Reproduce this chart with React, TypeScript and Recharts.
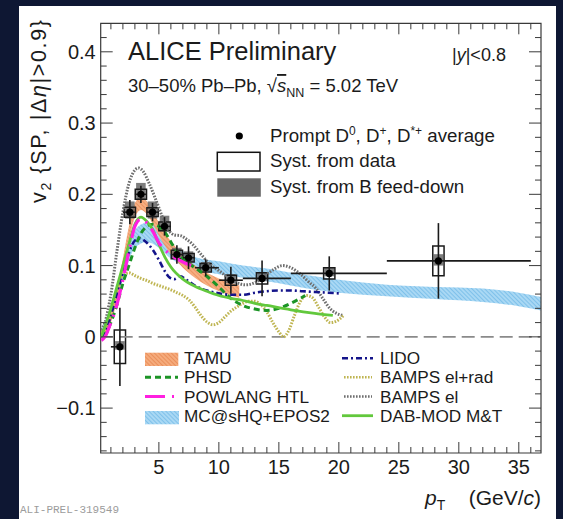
import React from "react";
import {
  ComposedChart,
  Line,
  Area,
  Scatter,
  ErrorBar,
  XAxis,
  YAxis,
  ReferenceArea,
  ReferenceLine,
} from "recharts";

// ── Layout ──
const W = 563;
const H = 519;
const PLOT = { left: 100.7, right: 541, top: 23.3, bottom: 453 };
const Y_AXIS_W = 60;
const X_AXIS_H = 40;
const X_DOMAIN: [number, number] = [0.15, 36.85];
const Y_DOMAIN: [number, number] = [-0.163, 0.44];
const INK = "#1b1b1b";
const FRAME = "#3a3a3a";
const FONT = "'Liberation Sans', Arial, Helvetica, sans-serif";

// ── Axis ticks ──
const xTicks = [1, 2, 3, 4, 5, 6, 7, 8, 9, 10, 11, 12, 13, 14, 15, 16, 17, 18, 19, 20, 21, 22, 23, 24, 25, 26, 27, 28, 29, 30, 31, 32, 33, 34, 35, 36];
const xLabels = [5, 10, 15, 20, 25, 30, 35];
const yTicks = [-0.16, -0.14, -0.12, -0.1, -0.08, -0.06, -0.04, -0.02, 0, 0.02, 0.04, 0.06, 0.08, 0.1, 0.12, 0.14, 0.16, 0.18, 0.2, 0.22, 0.24, 0.26, 0.28, 0.3, 0.32, 0.34, 0.36, 0.38, 0.4, 0.42];
const yLabels = [-0.1, 0, 0.1, 0.2, 0.3, 0.4];

// ── Measured D-meson v2 ──
const ptCenter = [1.75, 2.58, 3.5, 4.47, 5.47, 6.5, 7.47, 8.9, 11.0, 13.6, 19.2, 28.3];
const ptLow = [1, 2, 3, 4, 5, 6, 7, 8, 10, 12, 16, 24];
const ptHigh = [2, 3, 4, 5, 6, 7, 8, 10, 12, 16, 24, 36];
const v2 = [-0.014, 0.175, 0.2, 0.175, 0.155, 0.1155, 0.111, 0.097, 0.0795, 0.082, 0.089, 0.1066];
const v2Stat = [0.055, 0.017, 0.012, 0.013, 0.013, 0.013, 0.016, 0.012, 0.019, 0.025, 0.024, 0.053];
const v2SystData = [0.0235, 0.007, 0.007, 0.006, 0.006, 0.006, 0.006, 0.006, 0.007, 0.008, 0.008, 0.021];
const fdLow = [-0.018, 0.166, 0.192, 0.166, 0.148, 0.11, 0.105, 0.092, 0.075, 0.078, 0.085, 0.1];
const fdHigh = [-0.006, 0.19, 0.216, 0.19, 0.17, 0.125, 0.12, 0.105, 0.088, 0.09, 0.097, 0.116];
const SYST_HALF_W = 0.47;
const FD_HALF_W = 0.4;

// ── Model bands ──
const tamuPt = [0.2, 0.5, 1, 1.5, 2, 2.5, 3, 3.5, 4, 4.5, 5, 5.5, 6, 6.5, 7, 8, 9, 10, 11, 11.7];
const tamuLo = [0.0, 0.005, 0.02, 0.05, 0.09, 0.135, 0.168, 0.178, 0.172, 0.158, 0.142, 0.128, 0.116, 0.106, 0.097, 0.083, 0.072, 0.064, 0.058, 0.055];
const tamuHi = [0.01, 0.015, 0.035, 0.068, 0.11, 0.155, 0.188, 0.196, 0.19, 0.176, 0.16, 0.146, 0.134, 0.124, 0.115, 0.1, 0.09, 0.082, 0.076, 0.072];

const mcPt = [0.2, 1, 2, 3, 4, 5, 6, 7, 8, 10, 12, 14, 16, 18, 20, 24, 28, 32, 35, 36.85];
const mcLo = [0.0, 0.03, 0.08, 0.125, 0.133, 0.125, 0.11, 0.1, 0.095, 0.088, 0.083, 0.078, 0.072, 0.066, 0.062, 0.057, 0.053, 0.049, 0.043, 0.037];
const mcHi = [0.01, 0.045, 0.1, 0.15, 0.16, 0.15, 0.13, 0.12, 0.112, 0.106, 0.1, 0.096, 0.09, 0.085, 0.08, 0.073, 0.07, 0.068, 0.062, 0.056];

// ── Model curves ──
const phsdPt = [0.5, 1, 1.5, 2, 2.5, 3, 3.5, 4, 4.5, 5, 5.5, 6, 6.5, 7, 8, 9, 10, 11, 12, 13, 14, 15, 16, 17.2];
const phsdV2 = [0.0, 0.02, 0.045, 0.075, 0.1, 0.125, 0.145, 0.155, 0.158, 0.155, 0.147, 0.133, 0.12, 0.11, 0.097, 0.085, 0.07, 0.054, 0.044, 0.039, 0.037, 0.04, 0.047, 0.058];

const powlangPt = [0.2, 0.5, 1, 1.5, 2, 2.5, 3, 3.5, 4, 4.5, 5, 5.5, 6, 7, 8];
const powlangV2 = [-0.005, 0.0, 0.02, 0.045, 0.08, 0.12, 0.155, 0.165, 0.16, 0.148, 0.132, 0.122, 0.115, 0.105, 0.098];

const lidoPt = [0.2, 0.5, 1, 1.5, 2, 2.5, 3, 3.4, 4, 4.5, 5, 5.5, 5.9, 6.3, 6.8, 7.3, 8, 9, 10, 11, 12, 13, 14, 15, 16, 17, 18, 19, 20];
const lidoV2 = [0.0, 0.005, 0.03, 0.06, 0.09, 0.118, 0.135, 0.138, 0.132, 0.122, 0.108, 0.092, 0.083, 0.081, 0.085, 0.08, 0.072, 0.065, 0.061, 0.059, 0.059, 0.062, 0.064, 0.065, 0.065, 0.064, 0.063, 0.062, 0.061];

const bampsRadPt = [0.2, 0.5, 1, 1.5, 2, 2.5, 3, 3.5, 4, 4.5, 5, 5.5, 6, 6.5, 7, 7.5, 8, 8.5, 9, 9.5, 10, 10.5, 11, 11.5, 12, 12.5, 13, 13.5, 14, 14.5, 15, 15.4, 15.8, 16.3, 16.8, 17.3, 17.8, 18.3, 18.8, 19.3, 19.8, 20.4];
const bampsRadV2 = [0.005, 0.01, 0.035, 0.065, 0.085, 0.09, 0.086, 0.082, 0.079, 0.075, 0.072, 0.069, 0.066, 0.062, 0.058, 0.052, 0.042, 0.03, 0.021, 0.017, 0.02, 0.028, 0.036, 0.042, 0.047, 0.05, 0.05, 0.045, 0.035, 0.02, 0.007, 0.0, 0.008, 0.03, 0.05, 0.058, 0.055, 0.042, 0.028, 0.02, 0.022, 0.03];

const bampsElPt = [0.2, 0.5, 1, 1.5, 2, 2.5, 3, 3.3, 3.7, 4.2, 4.8, 5.3, 5.8, 6.3, 6.8, 7.3, 7.8, 8.5, 9.2, 10, 10.8, 11.5, 12.2, 13, 13.8, 14.6, 15.3, 16, 16.8, 17.5, 18.1, 18.7, 19.25, 19.8, 20.4];
const bampsElV2 = [0.01, 0.02, 0.06, 0.12, 0.175, 0.215, 0.234, 0.237, 0.232, 0.215, 0.19, 0.168, 0.15, 0.143, 0.142, 0.137, 0.13, 0.116, 0.103, 0.093, 0.083, 0.076, 0.073, 0.076, 0.085, 0.095, 0.1, 0.097, 0.088, 0.077, 0.068, 0.053, 0.04, 0.033, 0.03];

const dabPt = [0.2, 1, 1.5, 2, 2.5, 3, 3.5, 4, 4.5, 5, 5.5, 6, 7, 8, 9, 10, 11, 12, 13, 14, 16, 18, 19.5];
const dabV2 = [0.0, 0.04, 0.07, 0.1, 0.13, 0.158, 0.168, 0.162, 0.15, 0.13, 0.112, 0.098, 0.081, 0.071, 0.064, 0.058, 0.054, 0.051, 0.047, 0.044, 0.038, 0.033, 0.03];

// ── Series builders ──
const curve = (xs: number[], ys: number[]) => xs.map((x, i) => ({ x, y: ys[i] }));
const band = (xs: number[], lo: number[], hi: number[]) => xs.map((x, i) => ({ x, range: [lo[i], hi[i]] }));

const pointsData = ptCenter.map((x, i) => ({
  x,
  y: v2[i],
  ex: [x - ptLow[i], ptHigh[i] - x],
  ey: v2Stat[i],
}));

// ── Styles ──
const COLORS = {
  phsd: "#1c9426",
  powlang: "#ff1fe0",
  lido: "#14148a",
  bampsRad: "#bfb552",
  bampsEl: "#6e6e6e",
  dab: "#62c83c",
};
const DOTTED = "1.6 1.4";

const isMajorY = (v: number) => yLabels.some((l) => Math.abs(l - v) < 1e-6);

function XTick(props: any) {
  const { x, y, payload } = props;
  const v = payload.value as number;
  const major = xLabels.includes(v);
  const len = major ? 11 : 6;
  return (
    <g>
      <line x1={x} x2={x} y1={y} y2={y - len} stroke={FRAME} strokeWidth={1} />
      <line x1={x} x2={x} y1={PLOT.top} y2={PLOT.top + len} stroke={FRAME} strokeWidth={1} />
      {major && (
        <text x={x} y={y + 21} textAnchor="middle" fontSize={20} fill={INK} fontFamily={FONT}>
          {v}
        </text>
      )}
    </g>
  );
}

function YTick(props: any) {
  const { x, y, payload } = props;
  const v = payload.value as number;
  const major = isMajorY(v);
  const len = major ? 12 : 6;
  const label = Math.abs(v) < 1e-9 ? "0" : v.toFixed(1).replace("-", "\u2212");
  return (
    <g>
      <line x1={x} x2={x + len} y1={y} y2={y} stroke={FRAME} strokeWidth={1} />
      <line x1={PLOT.right} x2={PLOT.right - len} y1={y} y2={y} stroke={FRAME} strokeWidth={1} />
      {major && (
        <text x={x - 5} y={y + 7} textAnchor="end" fontSize={20} fill={INK} fontFamily={FONT}>
          {label}
        </text>
      )}
    </g>
  );
}

function Dot(props: any) {
  const { cx, cy } = props;
  return <circle cx={cx} cy={cy} r={3.6} fill="#000" />;
}

// ── Texts & legends ──
function Overlay() {
  const rows = [364.3, 383.3, 402.5, 421.7];
  const mid = (b: number) => b - 6;
  return (
    <svg
      width={W}
      height={H}
      style={{ position: "absolute", left: 0, top: 0, pointerEvents: "none" }}
      fontFamily={FONT}
      fill={INK}
    >
      <text x={128} y={60} fontSize={25.5}>ALICE Preliminary</text>
      <text x={452} y={61} fontSize={18}>
        |<tspan fontStyle="italic">y</tspan>|&lt;0.8
      </text>
      <text x={128} y={92} fontSize={18.5}>
        30–50% Pb–Pb, √<tspan fontStyle="italic" style={{ textDecoration: "overline" }}>s</tspan>
        <tspan dy={5} fontSize={12.5}>NN</tspan>
        <tspan dy={-5}> = 5.02 TeV</tspan>
      </text>

      {/* data legend */}
      <circle cx={239.3} cy={136} r={3.6} fill="#000" />
      <text x={270} y={141.5} fontSize={18.7}>
        Prompt D<tspan dy={-7} fontSize={12}>0</tspan>
        <tspan dy={7}>, D</tspan>
        <tspan dy={-7} fontSize={12}>+</tspan>
        <tspan dy={7}>, D</tspan>
        <tspan dy={-7} fontSize={12}>*+</tspan>
        <tspan dy={7}> average</tspan>
      </text>
      <rect x={217.3} y={152.3} width={42.7} height={18.7} fill="#fff" stroke="#111" strokeWidth={1.5} />
      <text x={270} y={167.3} fontSize={18.7}>Syst. from data</text>
      <rect x={217.3} y={178.3} width={43.5} height={18.4} fill="#666" />
      <text x={270} y={192.5} fontSize={18.7}>Syst. from B feed-down</text>

      {/* model legend, left column */}
      <rect x={145} y={352.7} width={33.3} height={13.3} fill="url(#tamuHatch)" />
      <text x={184} y={rows[0]} fontSize={17.2}>TAMU</text>
      <line x1={145} x2={178} y1={mid(rows[1])} y2={mid(rows[1])} stroke={COLORS.phsd} strokeWidth={3} strokeDasharray="6 4" />
      <text x={184} y={rows[1]} fontSize={17.2}>PHSD</text>
      <line x1={145} x2={178} y1={mid(rows[2])} y2={mid(rows[2])} stroke={COLORS.powlang} strokeWidth={3.2} strokeDasharray="20 7 2 7" />
      <text x={184} y={rows[2]} fontSize={17.2}>POWLANG HTL</text>
      <rect x={145} y={411} width={34} height={13.3} fill="url(#mcHatch)" />
      <text x={184} y={rows[3]} fontSize={17.2}>MC@sHQ+EPOS2</text>

      {/* model legend, right column */}
      <line x1={342} x2={373} y1={mid(rows[0])} y2={mid(rows[0])} stroke={COLORS.lido} strokeWidth={2.6} strokeDasharray="6 3 2 3" />
      <text x={380} y={rows[0]} fontSize={17.2}>LIDO</text>
      <line x1={344} x2={372} y1={mid(rows[1])} y2={mid(rows[1])} stroke={COLORS.bampsRad} strokeWidth={2.6} strokeDasharray={DOTTED} />
      <text x={380} y={rows[1]} fontSize={17.2}>BAMPS el+rad</text>
      <line x1={344} x2={372} y1={mid(rows[2])} y2={mid(rows[2])} stroke={COLORS.bampsEl} strokeWidth={2.6} strokeDasharray={DOTTED} />
      <text x={380} y={rows[2]} fontSize={17.2}>BAMPS el</text>
      <line x1={342} x2={373} y1={mid(rows[3])} y2={mid(rows[3])} stroke={COLORS.dab} strokeWidth={2.8} />
      <text x={380} y={rows[3]} fontSize={17.2}>DAB-MOD M&amp;T</text>

      {/* axis titles */}
      <text transform="translate(46,20) rotate(-90)" textAnchor="end" fontSize={21.5} textLength={183}>
        v<tspan dy={5} fontSize={14}>2</tspan>
        <tspan dy={-5}>{" {SP, |\u0394"}</tspan>
        <tspan fontStyle="italic">η</tspan>
        <tspan>{"|>0.9}"}</tspan>
      </text>
      <text x={425} y={505} fontSize={21}>
        <tspan fontStyle="italic">p</tspan>
        <tspan dy={5} fontSize={14}>T</tspan>
      </text>
      <text x={541} y={505} textAnchor="end" fontSize={21}>
        (GeV/<tspan fontStyle="italic">c</tspan>)
      </text>

      <text x={20} y={513} fontSize={11} fontFamily="'Liberation Mono', 'DejaVu Sans Mono', monospace" fill="#9c9c9c">
        ALI-PREL-319549
      </text>
    </svg>
  );
}

export default function App() {
  return (
    <div
      style={{
        position: "absolute",
        left: 0,
        top: 0,
        width: W,
        height: H,
        background: "#0e1733",
        overflow: "hidden",
        fontFamily: FONT,
      }}
    >
      <div style={{ position: "absolute", left: 19, top: 6, width: 537, height: 513, background: "#fff" }} />
      <div style={{ position: "absolute", left: 0, top: 0 }}>
        <ComposedChart
          width={W}
          height={H}
          margin={{
            top: PLOT.top,
            right: W - PLOT.right,
            bottom: H - PLOT.bottom - X_AXIS_H,
            left: PLOT.left - Y_AXIS_W,
          }}
        >
          <defs>
            <pattern id="tamuHatch" patternUnits="userSpaceOnUse" width={3} height={3} patternTransform="rotate(-45)">
              <rect width={3} height={3} fill="#f5ab7c" />
              <line x1={0} y1={0} x2={0} y2={3} stroke="#e47c45" strokeWidth={1.2} />
            </pattern>
            <pattern id="mcHatch" patternUnits="userSpaceOnUse" width={3} height={3} patternTransform="rotate(-45)">
              <rect width={3} height={3} fill="#a9d8f4" />
              <line x1={0} y1={0} x2={0} y2={3} stroke="#62b2e4" strokeWidth={1.2} />
            </pattern>
          </defs>
          <XAxis
            type="number"
            dataKey="x"
            domain={X_DOMAIN}
            allowDataOverflow
            ticks={xTicks}
            interval={0}
            height={X_AXIS_H}
            tickSize={0}
            tickMargin={0}
            axisLine={false}
            tickLine={false}
            tick={<XTick />}
          />
          <YAxis
            type="number"
            dataKey="y"
            domain={Y_DOMAIN}
            allowDataOverflow
            ticks={yTicks}
            interval={0}
            width={Y_AXIS_W}
            tickSize={0}
            tickMargin={0}
            axisLine={false}
            tickLine={false}
            tick={<YTick />}
          />

          <Area data={band(mcPt, mcLo, mcHi)} dataKey="range" type="monotone" fill="url(#mcHatch)" fillOpacity={1} stroke="none" isAnimationActive={false} />
          <Area data={band(tamuPt, tamuLo, tamuHi)} dataKey="range" type="monotone" fill="url(#tamuHatch)" fillOpacity={0.95} stroke="none" isAnimationActive={false} />

          <ReferenceLine y={0} stroke="#8a8a8a" strokeWidth={1.6} strokeDasharray="13 6" />

          <Line data={curve(bampsElPt, bampsElV2)} dataKey="y" type="monotone" stroke={COLORS.bampsEl} strokeWidth={3} strokeDasharray={DOTTED} dot={false} activeDot={false} isAnimationActive={false} />
          <Line data={curve(bampsRadPt, bampsRadV2)} dataKey="y" type="monotone" stroke={COLORS.bampsRad} strokeWidth={3} strokeDasharray={DOTTED} dot={false} activeDot={false} isAnimationActive={false} />
          <Line data={curve(lidoPt, lidoV2)} dataKey="y" type="monotone" stroke={COLORS.lido} strokeWidth={2.6} strokeDasharray="6 3 2 3" dot={false} activeDot={false} isAnimationActive={false} />
          <Line data={curve(phsdPt, phsdV2)} dataKey="y" type="monotone" stroke={COLORS.phsd} strokeWidth={3} strokeDasharray="6 4" dot={false} activeDot={false} isAnimationActive={false} />
          <Line data={curve(dabPt, dabV2)} dataKey="y" type="monotone" stroke={COLORS.dab} strokeWidth={2.8} dot={false} activeDot={false} isAnimationActive={false} />
          <Line data={curve(powlangPt, powlangV2)} dataKey="y" type="monotone" stroke={COLORS.powlang} strokeWidth={3.2} strokeDasharray="20 7 2 7" dot={false} activeDot={false} isAnimationActive={false} />

          {ptCenter.map((x, i) => (
            <ReferenceArea
              key={`fd${i}`}
              x1={x - FD_HALF_W}
              x2={x + FD_HALF_W}
              y1={fdLow[i]}
              y2={fdHigh[i]}
              fill="#666"
              fillOpacity={0.85}
              stroke="none"
              ifOverflow="visible"
            />
          ))}
          {ptCenter.map((x, i) => (
            <ReferenceArea
              key={`sys${i}`}
              x1={x - SYST_HALF_W}
              x2={x + SYST_HALF_W}
              y1={v2[i] - v2SystData[i]}
              y2={v2[i] + v2SystData[i]}
              fill="none"
              stroke="#1a1a1a"
              strokeWidth={1.5}
              ifOverflow="visible"
            />
          ))}

          <Scatter data={pointsData} dataKey="y" shape={<Dot />} isAnimationActive={false}>
            <ErrorBar dataKey="ex" direction="x" width={0} stroke="#1a1a1a" strokeWidth={1.6} isAnimationActive={false} />
            <ErrorBar dataKey="ey" direction="y" width={0} stroke="#1a1a1a" strokeWidth={1.6} isAnimationActive={false} />
          </Scatter>

          <ReferenceArea
            x1={X_DOMAIN[0]}
            x2={X_DOMAIN[1]}
            y1={Y_DOMAIN[0]}
            y2={Y_DOMAIN[1]}
            fill="none"
            stroke={FRAME}
            strokeWidth={1.2}
            ifOverflow="visible"
          />
        </ComposedChart>
      </div>
      <Overlay />
    </div>
  );
}
